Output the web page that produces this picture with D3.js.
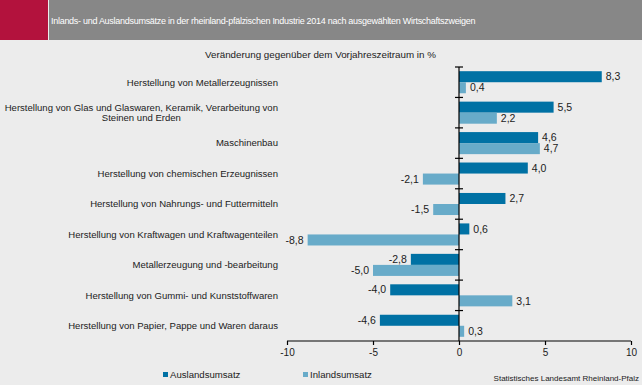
<!DOCTYPE html>
<html><head><meta charset="utf-8">
<script src="https://cdn.jsdelivr.net/npm/d3@7"></script>
<style>
html,body{margin:0;padding:0;background:#ececec;}
svg{display:block;font-family:"Liberation Sans",Arial,sans-serif;}
</style></head>
<body>
<svg id="chart" width="642" height="385"></svg>
<script>
const title = "Inlands- und Auslandsumsätze in der rheinland-pfälzischen Industrie 2014 nach ausgewählten Wirtschaftszweigen";
const axisTitle = "Veränderung gegenüber dem Vorjahreszeitraum  in %";
const source = "Statistisches Landesamt Rheinland-Pfalz";
const categories = [
  ["Herstellung von Metallerzeugnissen"],
  ["Herstellung von Glas und Glaswaren, Keramik, Verarbeitung von", "Steinen und Erden"],
  ["Maschinenbau"],
  ["Herstellung von chemischen Erzeugnissen"],
  ["Herstellung von Nahrungs- und Futtermitteln"],
  ["Herstellung von Kraftwagen und Kraftwagenteilen"],
  ["Metallerzeugung und -bearbeitung"],
  ["Herstellung von Gummi- und Kunststoffwaren"],
  ["Herstellung von Papier, Pappe und Waren daraus"]
];
const seriesNames = ["Auslandsumsatz", "Inlandsumsatz"];
const ausland = [8.3, 5.5, 4.6, 4.0, 2.7, 0.6, -2.8, -4.0, -4.6];
const inland  = [0.4, 2.2, 4.7, -2.1, -1.5, -8.8, -5.0, 3.1, 0.3];
const xTicks = [-10, -5, 0, 5, 10];
const colors = ["#0071a4", "#68abc9"];

const svg = d3.select("#chart");
const textColor = "#1b1b1b";

// header
svg.append("rect").attr("x",0).attr("y",0).attr("width",48).attr("height",40).attr("fill","#b3123d");
svg.append("rect").attr("x",49).attr("y",0).attr("width",593).attr("height",40).attr("fill","#878787");
svg.append("text").attr("x",51).attr("y",24).attr("fill","#fff").attr("font-size",9)
  .attr("letter-spacing",-0.28).text(title);

const x = d3.scaleLinear().domain([-10,10]).range([287,631]);
const idx = categories.map((d,i)=>i);
const y = d3.scaleBand().domain(idx).range([67,341]).padding(0);
const ySub = d3.scaleBand().domain([0,1]).range([0,y.bandwidth()]).paddingInner(0).paddingOuter(0.38);

// axis title
svg.append("text").attr("x",205).attr("y",58).attr("fill",textColor).attr("font-size",9.8).text(axisTitle);

// bars
const data = [];
idx.forEach(i=>{
  data.push({i, s:0, v:ausland[i]});
  data.push({i, s:1, v:inland[i]});
});
const g = svg.append("g");
g.selectAll("rect.bar").data(data).join("rect").attr("class","bar")
  .attr("x", d=>x(Math.min(0,d.v)))
  .attr("width", d=>Math.abs(x(d.v)-x(0)))
  .attr("y", d=>y(d.i)+ySub(d.s))
  .attr("height", ySub.bandwidth())
  .attr("fill", d=>colors[d.s]);

g.selectAll("text.val").data(data).join("text").attr("class","val")
  .attr("x", d=> d.v>=0 ? x(d.v)+4 : x(d.v)-4)
  .attr("y", d=>y(d.i)+ySub(d.s)+ySub.bandwidth()/2)
  .attr("dy","0.35em")
  .attr("text-anchor", d=> d.v>=0 ? "start":"end")
  .attr("font-size",10.5).attr("fill",textColor)
  .text(d=>d3.format(".1f")(d.v).replace(".",",").replace("−","-"));

// category labels
const lab = svg.append("g");
idx.forEach(i=>{
  const lines = categories[i];
  const cy = y(i)+y.bandwidth()/2;
  const lh = 10.5;
  lines.forEach((t,k)=>{
    lab.append("text").attr("x",278).attr("y", cy + (k-(lines.length-1)/2)*lh)
      .attr("dy","0.35em").attr("text-anchor", lines.length>1 && k>0 ? "middle" : "end")
      .attr("font-size",9.55).attr("fill",textColor)
      .text(t);
  });
});
// center the second line of multi-line label under the first
lab.selectAll("text").filter(function(){return d3.select(this).attr("text-anchor")==="middle";})
  .each(function(){
    const prev = this.previousSibling;
    const bb = prev.getBBox();
    d3.select(this).attr("x", bb.x + bb.width/2);
  });

// zero line with category ticks
svg.append("line").attr("x1",x(0)).attr("x2",x(0)).attr("y1",67).attr("y2",341)
  .attr("stroke","#000").attr("stroke-width",1.2);
const bounds = idx.map(i=>y(i));
svg.selectAll("line.ctick").data(bounds).join("line").attr("class","ctick")
  .attr("x1",x(0)-4).attr("x2",x(0)+4).attr("y1",d=>d).attr("y2",d=>d)
  .attr("stroke","#000").attr("stroke-width",1.2);

// x axis
const xAxis = d3.axisBottom(x).tickValues(xTicks).tickSize(4).tickPadding(4).tickFormat(d=>String(d));
const ax = svg.append("g").attr("transform","translate(0,341)").call(xAxis);
ax.select(".domain").attr("stroke","#000").attr("stroke-width",1.2).attr("d","M287,0H631");
ax.selectAll(".tick line").attr("stroke","#000").attr("stroke-width",1.2);
ax.selectAll(".tick text").attr("fill",textColor).attr("font-size",10)
  .attr("font-family","Liberation Sans, Arial, sans-serif");

// legend
const legX = [163, 303];
seriesNames.forEach((n,k)=>{
  svg.append("rect").attr("x",legX[k]).attr("y",372).attr("width",5).attr("height",5).attr("fill",colors[k]);
  svg.append("text").attr("x",legX[k]+7).attr("y",375).attr("dy","0.35em").attr("font-size",9.6).attr("fill",textColor).text(n);
});

// source
svg.append("text").attr("x",639).attr("y",378).attr("dy","0.35em").attr("text-anchor","end")
  .attr("font-size",8).attr("fill",textColor).text(source);
</script>
</body></html>
